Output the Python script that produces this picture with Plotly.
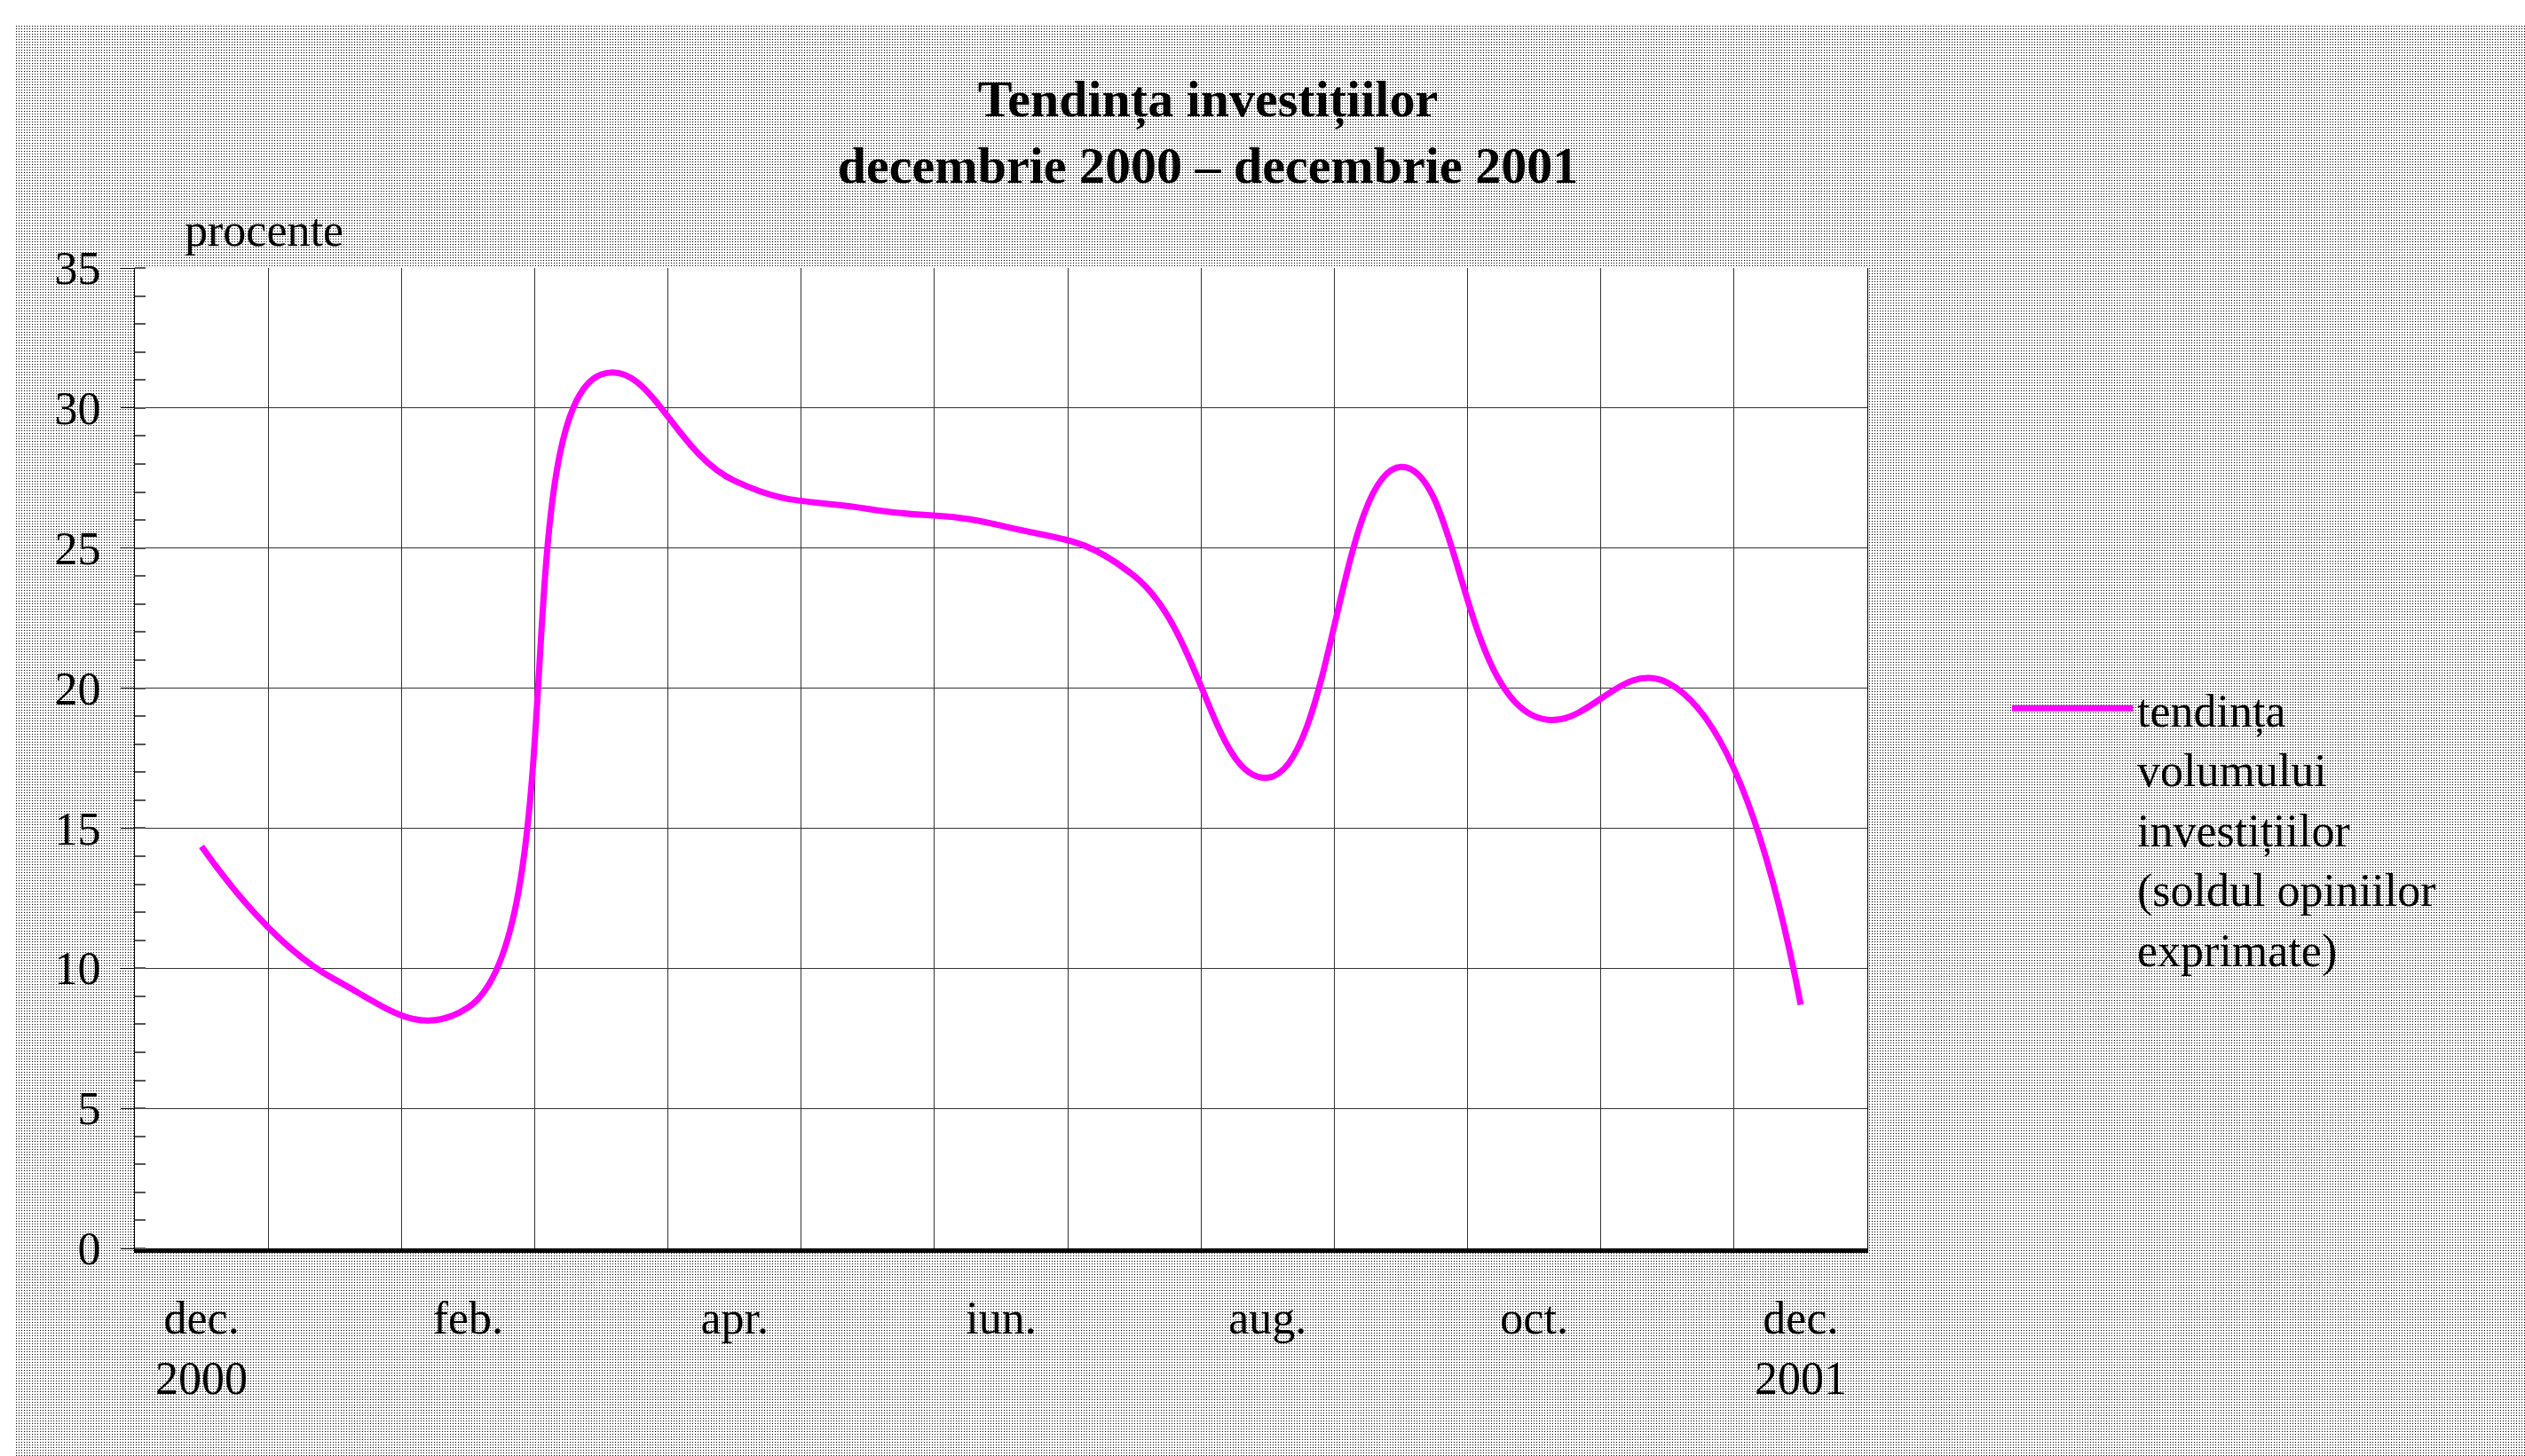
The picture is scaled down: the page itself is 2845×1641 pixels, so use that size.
import base64
import zlib
import struct
import numpy as np
import plotly.graph_objects as go

# ---------------- data ----------------
months = ["dec. 2000", "ian.", "feb.", "mar.", "apr.", "mai", "iun.",
          "iul.", "aug.", "sep.", "oct.", "noi.", "dec. 2001"]
tendinta = [14.35, 9.6, 8.6, 31.2, 27.4, 26.4, 25.8, 24.0, 16.8, 27.9, 19.0, 20.2, 8.7]
tick_labels = ["dec.<br>2000", "feb.", "apr.", "iun.", "aug.", "oct.", "dec.<br>2001"]
tick_index = [0, 2, 4, 6, 8, 10, 12]

series_name = "tendința<br>volumului<br>investițiilor<br>(soldul opiniilor<br>exprimate)"
title_text = "Tendința investițiilor<br>decembrie 2000 – decembrie 2001"

# ---------------- layout geometry ----------------
W, H = 2845, 1641
L, R, T, B = 152, 741, 302, 234
PW, PH = W - L - R, H - T - B
FONT = "Liberation Serif, Times New Roman, serif"


def dotted_background():
    arr = np.full((H, W), 255, dtype=np.uint8)
    arr[29::3, 18::3] = 0
    arr[T:H - B, L:W - R] = 255
    raw = np.hstack([np.zeros((H, 1), dtype=np.uint8), arr]).tobytes()

    def chunk(tag, data):
        c = struct.pack(">I", len(data)) + tag + data
        return c + struct.pack(">I", zlib.crc32(tag + data) & 0xFFFFFFFF)

    png = b"\x89PNG\r\n\x1a\n"
    png += chunk(b"IHDR", struct.pack(">IIBBBBB", W, H, 8, 0, 0, 0, 0))
    png += chunk(b"IDAT", zlib.compress(raw, 9))
    png += chunk(b"IEND", b"")
    return "data:image/png;base64," + base64.b64encode(png).decode()


x_idx = list(range(len(months)))

fig = go.Figure()
fig.add_trace(go.Scatter(
    x=x_idx, y=tendinta, mode="lines", name=series_name,
    line=dict(color="#FF00FF", width=7, shape="spline", smoothing=1.3),
    text=months, hovertemplate="%{text}: %{y}<extra></extra>",
))

fig.update_layout(
    width=W, height=H,
    margin=dict(l=L, r=R, t=T, b=B, autoexpand=False),
    paper_bgcolor="white", plot_bgcolor="white",
    font=dict(family=FONT, size=52, color="black"),
    title=dict(text="<b>" + title_text + "</b>", font=dict(family=FONT, size=58, color="black"),
               xref="paper", x=(1361 - L) / PW, xanchor="center",
               yref="container", y=1 - 131 / H, yanchor="top"),
    showlegend=True,
    legend=dict(x=(2262 - L) / PW, xanchor="left", y=(H - B - 758) / PH, yanchor="top",
                bgcolor="rgba(0,0,0,0)", borderwidth=0, valign="top",
                font=dict(family=FONT, size=52, color="black"), itemwidth=136),
    images=[dict(source=dotted_background(), xref="paper", yref="paper",
                 x=-L / PW, y=1 + T / PH, sizex=W / PW, sizey=H / PH,
                 xanchor="left", yanchor="top", sizing="stretch", layer="below")],
    annotations=[dict(text="procente", xref="paper", yref="paper",
                      x=(206 - L) / PW, y=(H - B - 260) / PH, xanchor="left", yanchor="middle",
                      showarrow=False, font=dict(family=FONT, size=52, color="black"))],
)

fig.update_xaxes(
    range=[-0.5, len(months) - 0.5], tickmode="array", tickvals=tick_index, ticktext=tick_labels,
    showgrid=False, zeroline=False, ticks="", ticklabelstandoff=29,
    showline=True, linecolor="black", linewidth=5,
    minor=dict(tick0=-0.5, dtick=1, showgrid=True, gridcolor="#333333", gridwidth=1, ticks=""),
    tickfont=dict(family=FONT, size=52, color="black"),
)
fig.update_yaxes(
    range=[0, 35], dtick=5, showgrid=True, gridcolor="#333333", gridwidth=1, zeroline=False,
    ticks="outside", ticklen=15, tickcolor="black", tickwidth=1, ticklabelstandoff=12,
    showline=True, linecolor="black", linewidth=1, mirror=True,
    minor=dict(dtick=1, ticks="inside", ticklen=12, tickcolor="#555555", tickwidth=1.5, showgrid=False),
    tickfont=dict(family=FONT, size=52, color="black"),
)

fig.write_html("out.html", config={"displayModeBar": False},
               post_script="document.body.style.margin='0';")
